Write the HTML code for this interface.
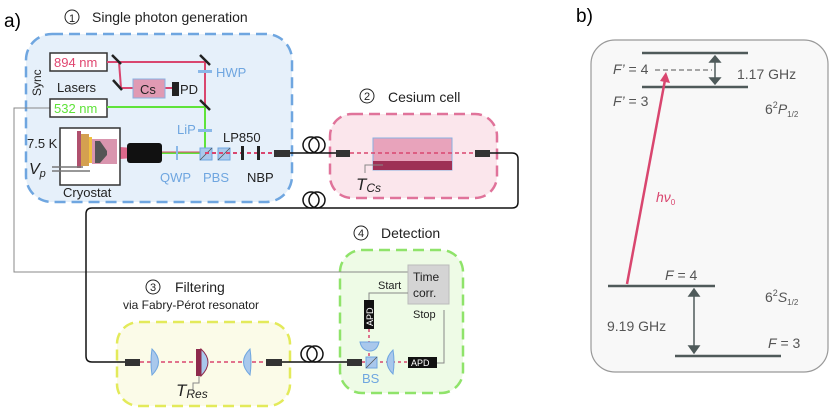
<!DOCTYPE html>
<html><head><meta charset="utf-8"><style>
body{margin:0;background:#fff}
svg{display:block;font-family:"Liberation Sans",sans-serif}
</style></head><body>
<svg width="831" height="413" viewBox="0 0 831 413" xmlns="http://www.w3.org/2000/svg">
<rect x="26" y="34" width="266" height="168" rx="26" fill="#e6f0fa" stroke="#6fa6e0" stroke-width="2.5" stroke-dasharray="11,6"/>
<rect x="330" y="114" width="167" height="84" rx="22" fill="#fbe6ec" stroke="#e0739a" stroke-width="2.5" stroke-dasharray="11,6"/>
<rect x="117" y="322" width="173" height="84" rx="22" fill="#fbfbe8" stroke="#e3ea5a" stroke-width="2.5" stroke-dasharray="11,6"/>
<rect x="340" y="250" width="123" height="143" rx="22" fill="#eefbe6" stroke="#8fe36a" stroke-width="2.5" stroke-dasharray="11,6"/>
<rect x="591" y="40" width="237" height="332" rx="24" fill="#f8f8f8" stroke="#999" stroke-width="1.2"/>

<text x="4" y="27" font-size="19">a)</text>
<text x="576" y="22" font-size="19">b)</text>

<g font-size="14" fill="#222">
<circle cx="72" cy="17" r="7" fill="none" stroke="#222" stroke-width="1"/><text x="69" y="22" font-size="11">1</text>
<text x="92" y="22">Single photon generation</text>
<circle cx="367" cy="96" r="7" fill="none" stroke="#222" stroke-width="1"/><text x="364" y="100" font-size="11">2</text>
<text x="388" y="102">Cesium cell</text>
<circle cx="153" cy="287" r="7" fill="none" stroke="#222" stroke-width="1"/><text x="150" y="291" font-size="11">3</text>
<text x="175" y="292">Filtering</text>
<text x="123" y="309" font-size="12">via Fabry-Pérot resonator</text>
<circle cx="361" cy="233" r="7" fill="none" stroke="#222" stroke-width="1"/><text x="358" y="237" font-size="11">4</text>
<text x="381" y="238">Detection</text>
</g>

<polyline points="50,108 14,108 14,272 408,272" fill="none" stroke="#888" stroke-width="1"/>
<text transform="translate(41,96) rotate(-90)" font-size="12" fill="#222">Sync</text>

<rect x="50" y="53" width="57" height="18" fill="#fff" stroke="#333" stroke-width="1.5"/>
<text x="54" y="67" font-size="13" fill="#e0456f">894 nm</text>
<text x="57" y="92" font-size="13" fill="#222">Lasers</text>
<rect x="50" y="99" width="57" height="18" fill="#fff" stroke="#333" stroke-width="1.5"/>
<text x="54" y="113" font-size="13" fill="#5fe33a">532 nm</text>

<polyline points="107,62 205,62 205,153" fill="none" stroke="#d9466f" stroke-width="2"/>
<polyline points="119,62 121,88 173,88" fill="none" stroke="#d9466f" stroke-width="2"/>
<polyline points="107,107 205,107 205,153" fill="none" stroke="#5fe33a" stroke-width="2"/>
<line x1="162" y1="153" x2="205" y2="153" stroke="#5fe33a" stroke-width="2"/>
<line x1="162" y1="152" x2="205" y2="152" stroke="#d9466f" stroke-width="1"/>
<polygon points="120,147 162,150 162,156 120,159" fill="#d9466f" opacity=".8"/>
<g stroke="#222" stroke-width="2.5">
<line x1="112" y1="55" x2="121" y2="64"/><line x1="113" y1="80" x2="122" y2="90"/>
<line x1="200" y1="55" x2="210" y2="65"/><line x1="200" y1="100" x2="210" y2="110"/>
</g>
<rect x="133" y="79" width="32" height="19" fill="#e09ab3" stroke="#8ab0e0" stroke-width="1"/>
<text x="140" y="94" font-size="13" fill="#222">Cs</text>
<rect x="172" y="82" width="7" height="14" fill="#222"/>
<text x="180" y="94" font-size="13" fill="#222">PD</text>
<rect x="198" y="70" width="14" height="3" fill="#8ab8e8"/>
<text x="216" y="77" font-size="13" fill="#6fa6e0">HWP</text>
<rect x="198" y="129" width="14" height="3" fill="#8ab8e8"/>
<text x="177" y="134" font-size="13" fill="#6fa6e0">LiP</text>

<rect x="60" y="128" width="60" height="57" fill="#fff" stroke="#333" stroke-width="1.5"/>
<rect x="77" y="131" width="4" height="37" fill="#b0506e"/>
<rect x="81" y="134" width="8" height="32" fill="#d4a050"/>
<rect x="89" y="137" width="3" height="26" fill="#f0c040"/>
<rect x="92" y="139" width="25" height="25" fill="#d995ae"/>
<polygon points="95,141 100,141 107,151 107,155 100,163 95,163" fill="#555"/>
<line x1="52" y1="167" x2="83" y2="167" stroke="#777" stroke-width="1.5"/>
<line x1="52" y1="171" x2="90" y2="171" stroke="#777" stroke-width="1.5"/>
<text x="27" y="148" font-size="13" fill="#222">7.5 K</text>
<text x="29" y="174" font-size="16" font-style="italic" fill="#222">V<tspan font-size="11" dy="3">p</tspan></text>
<text x="63" y="197" font-size="13" fill="#222">Cryostat</text>
<rect x="127" y="143" width="35" height="20" rx="3" fill="#111"/>
<rect x="176" y="146" width="2" height="14" fill="#8ab8e8"/>
<text x="160" y="182" font-size="13" fill="#6fa6e0">QWP</text>
<rect x="200" y="148" width="12" height="12" fill="#a9c8ec" stroke="#6fa6e0"/>
<line x1="200" y1="160" x2="212" y2="148" stroke="#555" stroke-width=".8"/>
<rect x="218" y="148" width="12" height="12" fill="#a9c8ec" stroke="#6fa6e0"/>
<line x1="218" y1="160" x2="230" y2="148" stroke="#555" stroke-width=".8"/>
<text x="203" y="182" font-size="13" fill="#6fa6e0">PBS</text>
<line x1="205" y1="153" x2="274" y2="153" stroke="#d9466f" stroke-width="2" stroke-dasharray="4,3"/>
<rect x="241" y="146" width="3" height="14" fill="#222"/><rect x="257" y="146" width="3" height="14" fill="#222"/>
<text x="223" y="142" font-size="13" fill="#222">LP850</text>
<text x="247" y="182" font-size="13" fill="#222">NBP</text>

<g fill="none" stroke="#111" stroke-width="1.5">
<line x1="290" y1="153" x2="336" y2="153"/>
<circle cx="311" cy="145" r="8"/><circle cx="317" cy="145" r="8"/>
<path d="M490 153 H512 Q518 153 518 159 V202 Q518 208 512 208 H92 Q86 208 86 214 V356 Q86 362 92 362 H125"/>
<circle cx="311" cy="200" r="8"/><circle cx="317" cy="200" r="8"/>
<line x1="282" y1="362" x2="347" y2="362"/>
<circle cx="309" cy="354" r="8"/><circle cx="315" cy="354" r="8"/>
</g>
<rect x="274" y="150" width="16" height="7" fill="#333"/>
<rect x="336" y="150" width="14" height="7" fill="#333"/>
<rect x="475" y="150" width="15" height="7" fill="#333"/>

<rect x="373" y="138" width="79" height="32" fill="#e8a3bb" stroke="#8ab0e0" stroke-width="1"/>
<rect x="373" y="161" width="79" height="9" fill="#9e3055"/>
<line x1="350" y1="153" x2="475" y2="153" stroke="#d9466f" stroke-width="1.5" stroke-dasharray="4,3"/>
<polyline points="383,165 365,165 365,173" fill="none" stroke="#888" stroke-width="1"/>
<text x="356" y="190" font-size="17" font-style="italic" fill="#222">T<tspan font-size="12" dy="2">Cs</tspan></text>

<line x1="140" y1="362" x2="266" y2="362" stroke="#d9466f" stroke-width="1.5" stroke-dasharray="4,3"/>
<rect x="125" y="359" width="15" height="7" fill="#333"/>
<rect x="266" y="359" width="16" height="7" fill="#333"/>
<path d="M152 349 Q165 362 152 375 Q150 362 152 349 Z" fill="#a9c8ec" stroke="#6fa6e0"/>
<path d="M250 349 Q237 362 250 375 Q252 362 250 349 Z" fill="#a9c8ec" stroke="#6fa6e0"/>
<rect x="196" y="349" width="5" height="27" fill="#8e2a4c"/>
<path d="M201 349 Q215 362 201 376 Z" fill="#a9c8ec" stroke="#8e2a4c"/>
<polyline points="199,376 199,383 193,383 193,390" fill="none" stroke="#888" stroke-width="1"/>
<text x="176" y="396" font-size="17" font-style="italic" fill="#222">T<tspan font-size="12" dy="2">Res</tspan></text>

<rect x="408" y="265" width="41" height="39" fill="#d4d4d4" stroke="#bbb"/>
<text x="413" y="281" font-size="12" fill="#222">Time</text>
<text x="413" y="297" font-size="12" fill="#222">corr.</text>
<text x="378" y="289" font-size="11" fill="#222">Start</text>
<text x="413" y="318" font-size="11" fill="#222">Stop</text>
<polyline points="369,300 369,293 408,293" fill="none" stroke="#888" stroke-width="1"/>
<polyline points="437,363 444,363 444,310" fill="none" stroke="#888" stroke-width="1"/>
<rect x="364" y="300" width="10" height="29" fill="#111"/>
<text transform="translate(373,326) rotate(-90)" font-size="9" fill="#fff">APD</text>
<line x1="369" y1="329" x2="369" y2="357" stroke="#d9466f" stroke-width="1.5" stroke-dasharray="3,3"/>
<path d="M360 342 H379 Q377 351 370 351 Q362 351 360 342 Z" fill="#a9c8ec" stroke="#6fa6e0"/>
<line x1="362" y1="362" x2="408" y2="362" stroke="#d9466f" stroke-width="1.5" stroke-dasharray="3,3"/>
<rect x="347" y="359" width="15" height="7" fill="#333"/>
<rect x="366" y="357" width="11" height="11" fill="#a9c8ec" stroke="#6fa6e0"/>
<line x1="366" y1="368" x2="377" y2="357" stroke="#555" stroke-width=".8"/>
<path d="M393 350 Q381 362 393 374 Q395 362 393 350 Z" fill="#a9c8ec" stroke="#6fa6e0"/>
<rect x="408" y="357" width="29" height="11" fill="#111"/>
<text x="411" y="366" font-size="9" fill="#fff">APD</text>
<text x="362" y="383" font-size="13" fill="#6fa6e0">BS</text>

<g stroke="#4f5a5a" stroke-width="2.5">
<line x1="642" y1="53" x2="748" y2="53"/><line x1="642" y1="87" x2="748" y2="87"/>
<line x1="608" y1="286" x2="715" y2="286"/><line x1="675" y1="356" x2="781" y2="356"/>
</g>
<line x1="655" y1="70" x2="712" y2="70" stroke="#555" stroke-width="1" stroke-dasharray="5,3"/>
<g stroke="#4f5a5a" stroke-width="1.5" fill="#4f5a5a">
<line x1="715" y1="58" x2="715" y2="82"/><polygon points="710,62 715,56 720,62"/><polygon points="710,78 715,84 720,78"/>
<line x1="694" y1="291" x2="694" y2="351"/><polygon points="689,296 694,289 699,296"/><polygon points="689,346 694,353 699,346"/>
</g>
<line x1="627" y1="284" x2="665" y2="80" stroke="#d9466f" stroke-width="2.5"/>
<polygon points="660,81 666,72 670,83" fill="#d9466f"/>
<g font-size="14" fill="#555">
<text x="613" y="74"><tspan font-style="italic">F’</tspan> = 4</text>
<text x="737" y="79">1.17 GHz</text>
<text x="613" y="106"><tspan font-style="italic">F’</tspan> = 3</text>
<text x="765" y="114">6<tspan font-size="9" dy="-6">2</tspan><tspan font-style="italic" dy="6">P</tspan><tspan font-size="8" dy="3">1/2</tspan></text>
<text x="656" y="202" fill="#d9466f" font-style="italic">hν<tspan font-size="8" dy="3" font-style="normal">0</tspan></text>
<text x="665" y="280"><tspan font-style="italic">F</tspan> = 4</text>
<text x="765" y="302">6<tspan font-size="9" dy="-6">2</tspan><tspan font-style="italic" dy="6">S</tspan><tspan font-size="8" dy="3">1/2</tspan></text>
<text x="607" y="331">9.19 GHz</text>
<text x="768" y="348"><tspan font-style="italic">F</tspan> = 3</text>
</g>
</svg>
</body></html>
